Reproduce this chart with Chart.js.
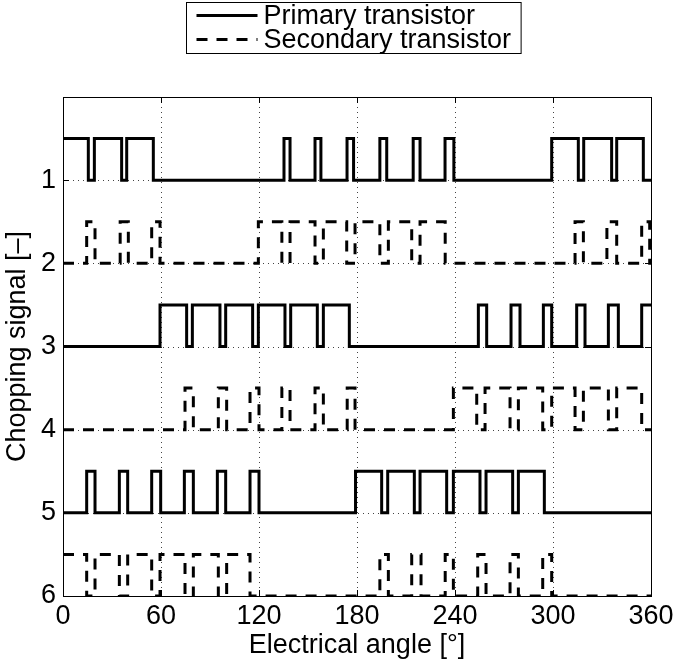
<!DOCTYPE html>
<html>
<head>
<meta charset="utf-8">
<script src="https://cdn.jsdelivr.net/npm/chart.js@4"></script>
<style>
  html, body { margin: 0; padding: 0; background: #fff; }
  #wrap { position: relative; width: 674px; height: 663px; }
</style>
</head>
<body>
<div id="wrap"><canvas id="c" width="674" height="663"></canvas></div>
<script>
// tick labels
var X_TICKS = [0, 60, 120, 180, 240, 300, 360];
var Y_TICKS = [1, 2, 3, 4, 5, 6];

// switching angles (deg); level toggles at each edge
var PRIMARY_1_START = 1;
var PRIMARY_1_EDGES = [15.5, 19.2, 35.9, 39.0, 55.3, 135.3, 139.0, 154.3, 157.9, 173.9, 177.9,
  194.0, 198.2, 214.4, 218.6, 233.9, 239.3, 299.2, 315.5, 318.8, 335.9, 339.0, 355.3];
var SECONDARY_2_START = 0;
var SECONDARY_2_EDGES = [14.5, 19.6, 35.0, 40.0, 54.3, 59.4, 119.6, 134.0, 139.0, 154.3, 159.4,
  173.7, 178.8, 194.0, 199.2, 213.5, 218.6, 234.0, 313.5, 318.6, 333.0, 339.0, 354.3, 359.2];
var PRIMARY_3_START = 0;
var PRIMARY_3_EDGES = [59.4, 75.7, 79.2, 96.1, 99.6, 116.1, 119.6, 135.9, 139.4, 155.7, 159.4,
  175.3, 254.3, 259.4, 274.3, 279.8, 294.1, 299.2, 314.5, 319.6, 333.9, 340.0, 354.3];
var SECONDARY_4_START = 0;
var SECONDARY_4_EDGES = [74.7, 79.8, 95.1, 100.2, 114.5, 120.0, 134.0, 139.0, 154.3, 159.4, 174.0,
  178.8, 239.0, 253.3, 258.4, 273.7, 278.8, 293.7, 299.2, 313.5, 318.6, 333.9, 339.0, 354.3];
var PRIMARY_5_START = 0;
var PRIMARY_5_EDGES = [14.5, 19.6, 34.5, 39.6, 54.3, 59.8, 74.3, 79.8, 94.5, 99.6, 114.5, 120.0,
  179.1, 195.1, 198.8, 215.1, 218.6, 234.9, 239.0, 255.3, 259.0, 275.3, 278.8, 294.7];
var SECONDARY_6_START = 1;
var SECONDARY_6_EDGES = [14.5, 19.6, 34.5, 39.6, 54.3, 59.4, 74.7, 79.8, 95.1, 100.2, 114.5,
  194.0, 199.2, 213.5, 219.2, 234.0, 239.0, 253.9, 259.0, 273.7, 278.8, 293.7, 299.2];

var FONT = '"Liberation Sans", Arial, sans-serif';
var FS = 27;
var DASH = [11, 9];

function steps(base, start, edges) {
  var lvl = start;
  var pts = [{ x: 0, y: lvl ? base - 0.5 : base }];
  edges.forEach(function (e) {
    lvl = 1 - lvl;
    pts.push({ x: e, y: lvl ? base - 0.5 : base });
  });
  pts.push({ x: 360, y: lvl ? base - 0.5 : base });
  return pts;
}

function ds(label, pts, dashed) {
  return {
    label: label, data: pts, stepped: true,
    borderColor: "#000", borderWidth: 3, pointRadius: 0,
    borderDash: dashed ? DASH : [], borderCapStyle: "butt", borderJoinStyle: "miter",
    fill: false
  };
}

var datasets = [
  ds("Primary transistor", steps(1, PRIMARY_1_START, PRIMARY_1_EDGES), false),
  ds("Secondary transistor", steps(2, SECONDARY_2_START, SECONDARY_2_EDGES), true),
  ds("Primary transistor", steps(3, PRIMARY_3_START, PRIMARY_3_EDGES), false),
  ds("Secondary transistor", steps(4, SECONDARY_4_START, SECONDARY_4_EDGES), true),
  ds("Primary transistor", steps(5, PRIMARY_5_START, PRIMARY_5_EDGES), false),
  ds("Secondary transistor", steps(6, SECONDARY_6_START, SECONDARY_6_EDGES), true)
];

/* grid, box and inward ticks drawn MATLAB style */
var frame = {
  id: "frame",
  beforeDatasetsDraw: function (chart) {
    var ctx = chart.ctx, a = chart.chartArea, x = chart.scales.x, y = chart.scales.y;
    ctx.save();
    ctx.strokeStyle = "#444";
    ctx.lineWidth = 1;
    ctx.setLineDash([1, 4]);
    X_TICKS.slice(1, -1).forEach(function (v) {
      var px = Math.round(x.getPixelForValue(v)) + 0.5;
      ctx.beginPath(); ctx.moveTo(px, a.top); ctx.lineTo(px, a.bottom); ctx.stroke();
    });
    Y_TICKS.slice(0, -1).forEach(function (v) {
      var py = Math.round(y.getPixelForValue(v)) + 0.5;
      ctx.beginPath(); ctx.moveTo(a.left, py); ctx.lineTo(a.right, py); ctx.stroke();
    });
    ctx.restore();
  },
  afterDatasetsDraw: function (chart) {
    var ctx = chart.ctx, a = chart.chartArea, x = chart.scales.x, y = chart.scales.y;
    ctx.save();
    ctx.strokeStyle = "#000";
    ctx.lineWidth = 1;
    ctx.setLineDash([]);
    ctx.strokeRect(Math.round(a.left) + 0.5, Math.round(a.top) + 0.5,
      Math.round(a.right - a.left), Math.round(a.bottom - a.top));
    var t = 6;
    ctx.beginPath();
    X_TICKS.forEach(function (v) {
      var px = Math.round(x.getPixelForValue(v)) + 0.5;
      ctx.moveTo(px, a.bottom); ctx.lineTo(px, a.bottom - t);
      ctx.moveTo(px, a.top); ctx.lineTo(px, a.top + t);
    });
    Y_TICKS.forEach(function (v) {
      var py = Math.round(y.getPixelForValue(v)) + 0.5;
      ctx.moveTo(a.left, py); ctx.lineTo(a.left + t, py);
      ctx.moveTo(a.right, py); ctx.lineTo(a.right - t, py);
    });
    ctx.stroke();
    ctx.restore();
  },
  afterDraw: function (chart) {
    // boxed legend above the axes
    var ctx = chart.ctx;
    var items = [chart.data.datasets[0], chart.data.datasets[1]];
    ctx.save();
    ctx.font = FS + "px " + FONT;
    var tw = Math.max.apply(null, items.map(function (d) { return ctx.measureText(d.label).width; }));
    var lineLen = 61, pad = 10, gap = 6, rowH = 24;
    var w = pad + lineLen + gap + tw + pad, h = 51;
    var left = 186.5, top = 2.5;
    ctx.fillStyle = "#fff";
    ctx.fillRect(left, top, w, h);
    ctx.strokeStyle = "#000";
    ctx.lineWidth = 1;
    ctx.strokeRect(left, top, w, h);
    items.forEach(function (d, i) {
      var yy = top + 13 + rowH * i;
      ctx.beginPath();
      ctx.lineWidth = 3;
      ctx.setLineDash(d.borderDash);
      ctx.moveTo(left + pad, yy); ctx.lineTo(left + pad + lineLen, yy);
      ctx.stroke();
      ctx.setLineDash([]);
      ctx.fillStyle = "#000";
      ctx.textBaseline = "middle";
      ctx.fillText(d.label, left + pad + lineLen + gap, yy + 1);
    });
    ctx.restore();
  }
};

function noPad(s) {
  s.paddingLeft = 0; s.paddingRight = 0; s.paddingTop = 0; s.paddingBottom = 0;
}

new Chart(document.getElementById("c"), {
  type: "line",
  data: { datasets: datasets },
  plugins: [frame],
  options: {
    responsive: false, animation: false, devicePixelRatio: 1,
    layout: { padding: { top: 97, right: 23, left: 0, bottom: 0 } },
    plugins: { legend: { display: false }, tooltip: { enabled: false } },
    scales: {
      x: {
        type: "linear", min: 0, max: 360,
        afterBuildTicks: function (s) { s.ticks = X_TICKS.map(function (v) { return { value: v }; }); },
        afterFit: function (s) { s.height = 67; noPad(s); },
        grid: { display: false, drawTicks: false }, border: { display: false },
        ticks: { color: "#000", font: { family: FONT, size: FS, lineHeight: 1 }, padding: 7, maxRotation: 0 },
        title: { display: true, text: "Electrical angle [°]", color: "#000", font: { family: FONT, size: FS, lineHeight: 1 }, padding: { top: 0, bottom: 4 } }
      },
      y: {
        type: "linear", min: 0, max: 6, reverse: true,
        afterBuildTicks: function (s) { s.ticks = Y_TICKS.map(function (v) { return { value: v }; }); },
        afterFit: function (s) { s.width = 63; noPad(s); },
        grid: { display: false, drawTicks: false }, border: { display: false },
        ticks: { color: "#000", font: { family: FONT, size: FS }, padding: 7 },
        title: { display: true, text: "Chopping signal [–]", color: "#000", font: { family: FONT, size: FS, lineHeight: 1 }, padding: { top: 4, bottom: 0 } }
      }
    }
  }
});
</script>
</body>
</html>
